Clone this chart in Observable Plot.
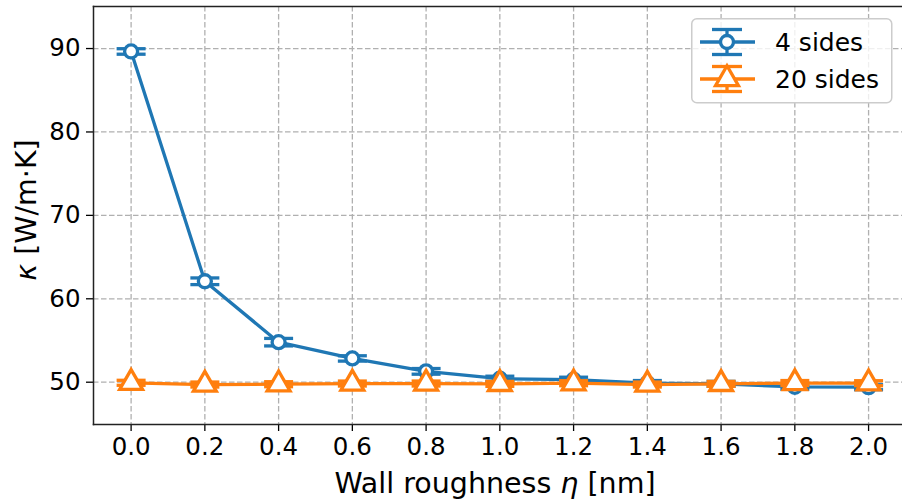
<!DOCTYPE html>
<html>
<head>
<meta charset="utf-8">
<script src="https://cdn.jsdelivr.net/npm/d3@7"></script>
<script src="https://cdn.jsdelivr.net/npm/@observablehq/plot@0.6"></script>
<style>
  html, body { margin: 0; padding: 0; background: #fff; }
  #wrap { position: relative; width: 902px; height: 504px; font-family: "DejaVu Sans", sans-serif; }
  #legend { position: absolute; left: 691px; top: 18px; }
</style>
</head>
<body>
<div id="wrap"></div>
<script>
// ---- data ----
const roughness = [0.0, 0.2, 0.4, 0.6, 0.8, 1.0, 1.2, 1.4, 1.6, 1.8, 2.0];
const kappa4 = [89.65, 62.1, 54.8, 52.85, 51.3, 50.42, 50.3, 49.9, 49.8, 49.45, 49.4];
const err4 = [0.33, 0.4, 0.45, 0.32, 0.34, 0.3, 0.3, 0.3, 0.3, 0.3, 0.3];
const kappa20 = [49.93, 49.72, 49.76, 49.84, 49.84, 49.8, 49.88, 49.72, 49.8, 49.9, 49.88];
const err20 = [0.3, 0.3, 0.3, 0.3, 0.3, 0.3, 0.3, 0.3, 0.3, 0.3, 0.3];
const seriesNames = ["4 sides", "20 sides"];
const xTicks = [0.0, 0.2, 0.4, 0.6, 0.8, 1.0, 1.2, 1.4, 1.6, 1.8, 2.0];
const yTicks = [50, 60, 70, 80, 90];
const xLabel = ["Wall roughness ", "η", " [nm]"];
const yLabel = ["κ", " [W/m·K]"];

const blue = "#1f77b4", orange = "#ff7f0e";
const s4 = roughness.map((x, i) => ({x, y: kappa4[i], e: err4[i]}));
const s20 = roughness.map((x, i) => ({x, y: kappa20[i], e: err20[i]}));

const cap = { draw(ctx, size) { const s = Math.sqrt(size / Math.PI); ctx.moveTo(-s, 0); ctx.lineTo(s, 0); } };

function seriesMarks(data, color, symbol, r) {
  return [
    Plot.line(data, {x: "x", y: "y", stroke: color, strokeWidth: 3.3}),
    Plot.ruleX(data, {x: "x", y1: d => d.y - d.e, y2: d => d.y + d.e, stroke: color, strokeWidth: 3.3}),
    Plot.dot(data, {x: "x", y: d => d.y - d.e, symbol: cap, r: 14.5, stroke: color, strokeWidth: 3.3, fill: "none"}),
    Plot.dot(data, {x: "x", y: d => d.y + d.e, symbol: cap, r: 14.5, stroke: color, strokeWidth: 3.3, fill: "none"}),
    Plot.dot(data, {x: "x", y: "y", symbol, r, stroke: color, strokeWidth: 3.3, fill: "white"})
  ];
}

const chart = Plot.plot({
  width: 902,
  height: 504,
  marginLeft: 93,
  marginRight: 0,
  marginTop: 6,
  marginBottom: 80,
  style: {fontFamily: "DejaVu Sans", fontSize: "24.5px", color: "#000", background: "white"},
  x: {domain: [-0.102, 2.092]},
  y: {domain: [44.93, 95.04]},
  marks: [
    Plot.gridX(xTicks, {stroke: "#b0b0b0", strokeOpacity: 1, strokeWidth: 1.3, strokeDasharray: "5.5,2.5"}),
    Plot.gridY(yTicks, {stroke: "#b0b0b0", strokeOpacity: 1, strokeWidth: 1.3, strokeDasharray: "5.5,2.5"}),
    Plot.axisX({ticks: xTicks, tickFormat: d => d.toFixed(1), tickSize: 7, tickPadding: 6, strokeWidth: 1.3,
      fontSize: 24.5, label: null}),
    Plot.axisY({ticks: yTicks, tickFormat: d => String(d), tickSize: 7, tickPadding: 6, strokeWidth: 1.3,
      fontSize: 24.5, label: null}),
    ...seriesMarks(s4, blue, "circle", 6.5),
    ...seriesMarks(s20, orange, "triangle", 8.5),
    Plot.frame({anchor: "left", stroke: "#222", strokeWidth: 1.5}),
    Plot.frame({anchor: "top", stroke: "#222", strokeWidth: 1.5}),
    Plot.frame({anchor: "bottom", stroke: "#222", strokeWidth: 1.5})
  ]
});

// axis labels (with italic greek letters)
const NS = "http://www.w3.org/2000/svg";
function label(parts, italicIdx, attrs) {
  const t = document.createElementNS(NS, "text");
  for (const [k, v] of Object.entries(attrs)) t.setAttribute(k, v);
  parts.forEach((p, i) => {
    const ts = document.createElementNS(NS, "tspan");
    if (i === italicIdx) ts.setAttribute("font-style", "italic");
    ts.textContent = p;
    t.appendChild(ts);
  });
  chart.appendChild(t);
}
label(xLabel, 1, {x: 495, y: 492.5, "text-anchor": "middle", "font-size": "28.5px", "font-family": "DejaVu Sans", fill: "#000"});
label(yLabel, 0, {transform: "translate(36,210) rotate(-90)", "text-anchor": "middle", "font-size": "28.5px", "font-family": "DejaVu Sans", fill: "#000"});

const wrap = document.getElementById("wrap");
wrap.appendChild(chart);

// legend overlay
const lg = document.createElementNS(NS, "svg");
lg.setAttribute("id", "legend");
lg.setAttribute("width", 202);
lg.setAttribute("height", 86);
const rows = [
  {name: seriesNames[0], color: blue, sym: "circle", cy: 24},
  {name: seriesNames[1], color: orange, sym: "triangle", cy: 61}
];
let html = '<rect x="0.75" y="0.75" width="200" height="84" rx="5" fill="white" fill-opacity="0.8" stroke="#cccccc" stroke-width="1.5"/>';
for (const r of rows) {
  html += `<line x1="9" x2="64" y1="${r.cy}" y2="${r.cy}" stroke="${r.color}" stroke-width="3.3"/>`;
  html += `<line x1="36" x2="36" y1="${r.cy - 12.5}" y2="${r.cy + 12.5}" stroke="${r.color}" stroke-width="3.3"/>`;
  html += `<line x1="21" x2="51" y1="${r.cy - 12.5}" y2="${r.cy - 12.5}" stroke="${r.color}" stroke-width="3.3"/>`;
  html += `<line x1="21" x2="51" y1="${r.cy + 12.5}" y2="${r.cy + 12.5}" stroke="${r.color}" stroke-width="3.3"/>`;
  const p = d3.symbol(r.sym === "circle" ? d3.symbolCircle : d3.symbolTriangle, r.sym === "circle" ? Math.PI * 6.5 * 6.5 : Math.PI * 8.5 * 8.5)();
  html += `<path transform="translate(36,${r.cy})" d="${p}" fill="white" stroke="${r.color}" stroke-width="3.3"/>`;
  html += `<text x="84" y="${r.cy + 9}" font-family="DejaVu Sans" font-size="25px" fill="#000">${r.name}</text>`;
}
lg.innerHTML = html;
wrap.appendChild(lg);
</script>
</body>
</html>
